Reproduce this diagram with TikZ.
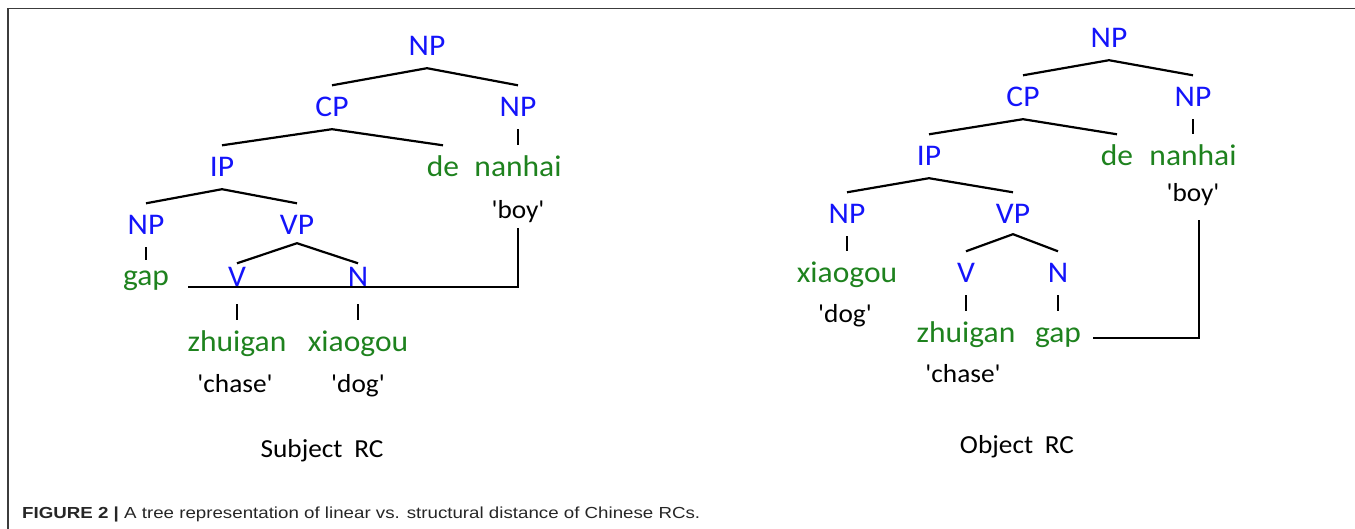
\documentclass[tikz,border=0pt]{standalone}
\usepackage{fontspec}
\setmainfont{Carlito}
\newfontfamily\labfont[FakeStretch=1.05]{Carlito}
\newfontfamily\capfont[FakeStretch=1.17]{Liberation Sans}
\usetikzlibrary{calc}
\definecolor{labblue}{RGB}{20,20,250}
\definecolor{labgreen}{RGB}{30,130,30}
\definecolor{framegray}{RGB}{60,60,60}
\tikzset{
  lab/.style={font=\labfont\fontsize{30}{36}\selectfont, anchor=base, text height=19.5pt, text depth=0pt, inner xsep=0pt, inner ysep=12pt},
  cat/.style={lab, text=labblue},
  word/.style={lab, text=labgreen},
  lowcat/.style={cat, inner ysep=4pt},
  gloss/.style={font=\labfont\fontsize{26}{30}\selectfont, anchor=base, text height=17pt, text depth=5pt, inner xsep=0pt, inner ysep=4pt, text=black},
  rctitle/.style={font=\labfont\fontsize{26}{30}\selectfont, anchor=base, inner sep=0pt, text=black},
  edge/.style={line width=2.2pt, black},
  link/.style={line width=1.8pt, black},
}
\begin{document}
\begin{tikzpicture}[x=1pt,y=-1pt]
\useasboundingbox (0,0) rectangle (1355,529);
\draw[line width=1.6pt, framegray] (8,529) -- (8,8.5) -- (1355,8.5);

% ---------- Subject RC ----------
\node[cat] (LnpT) at (427,56) {NP};
\node[cat] (Lcp) at (332,117) {CP};
\node[cat] (LnpR) at (518,117) {NP};
\node[cat] (Lip) at (222,177) {IP};
\node[word] (Lde) at (443,177) {de};
\node[word] (Lnanhai) at (518,177) {nanhai};
\node[gloss] (Lboy) at (518,219) {'boy'};
\node[cat] (Lnp) at (146,235) {NP};
\node[cat] (Lvp) at (297,235) {VP};
\node[word, inner ysep=6pt] (Lgap) at (146,286) {gap};
\node[lowcat] (Lv) at (237,287) {V};
\node[lowcat] (Ln) at (358,287) {N};
\node[word] (Lzhuigan) at (237,352) {zhuigan};
\node[word] (Lxiaogou) at (358,352) {xiaogou};
\node[gloss] (Lchase) at (235,392) {'chase'};
\node[gloss] (Ldog) at (358,392) {'dog'};
\node[rctitle] (Lsubj) at (322,457) {Subject\hspace{0.45em}RC};

\draw[edge] (Lcp.north) -- (LnpT.south) -- (LnpR.north);
\draw[edge] (LnpR.south) -- (Lnanhai.north);
\draw[edge] (Lip.north) -- (Lcp.south) -- (Lde.north);
\draw[edge] (Lnp.north) -- (Lip.south) -- (Lvp.north);
\draw[edge] (Lnp.south) -- (Lgap.north);
\draw[edge] (Lv.north) -- ($(Lvp.south)+(0,-4)$) -- (Ln.north);
\draw[edge] ($(Lv.south)+(0,13)$) -- (Lzhuigan.north);
\draw[edge] ($(Ln.south)+(0,13)$) -- (Lxiaogou.north);
\draw[link] ($(Lgap.base east)+(19,1)$) -| (Lboy.south);

% ---------- Object RC ----------
\node[cat] (RnpT) at (1109,48) {NP};
\node[cat] (Rcp) at (1023,107) {CP};
\node[cat] (RnpR) at (1193,107) {NP};
\node[cat] (Rip) at (929,166) {IP};
\node[word] (Rde) at (1117,166) {de};
\node[word] (Rnanhai) at (1193,166) {nanhai};
\node[gloss] (Rboy) at (1193,202) {'boy'};
\node[cat] (Rnp) at (847,224) {NP};
\node[cat] (Rvp) at (1013,224) {VP};
\node[word] (Rxiaogou) at (847,283) {xiaogou};
\node[cat] (Rv) at (966,283) {V};
\node[cat] (Rn) at (1058,283) {N};
\node[gloss] (Rdog) at (845,323) {'dog'};
\node[word] (Rzhuigan) at (966,343) {zhuigan};
\node[word] (Rgap) at (1058,343) {gap};
\node[gloss] (Rchase) at (963,382) {'chase'};
\node[rctitle] (Robj) at (1017,453) {Object\hspace{0.45em}RC};

\draw[edge] (Rcp.north) -- (RnpT.south) -- (RnpR.north);
\draw[edge] (RnpR.south) -- (Rnanhai.north);
\draw[edge] (Rip.north) -- (Rcp.south) -- (Rde.north);
\draw[edge] (Rnp.north) -- (Rip.south) -- (Rvp.north);
\draw[edge] (Rnp.south) -- (Rxiaogou.north);
\draw[edge] (Rv.north) -- ($(Rvp.south)+(0,-2)$) -- (Rn.north);
\draw[edge] (Rv.south) -- (Rzhuigan.north);
\draw[edge] (Rn.south) -- (Rgap.north);
\draw[link] ($(Rgap.base east)+(12,-5)$) -| ($(Rboy.south)+(6,9)$);

% ---------- caption ----------
\node[anchor=base west, inner sep=0pt, font=\capfont\fontsize{16}{18}\selectfont, text=black!85] (cap) at (22,518)
  {\textbf{FIGURE 2 |} A tree representation of linear vs. structural distance of Chinese RCs.};
\end{tikzpicture}
\end{document}
